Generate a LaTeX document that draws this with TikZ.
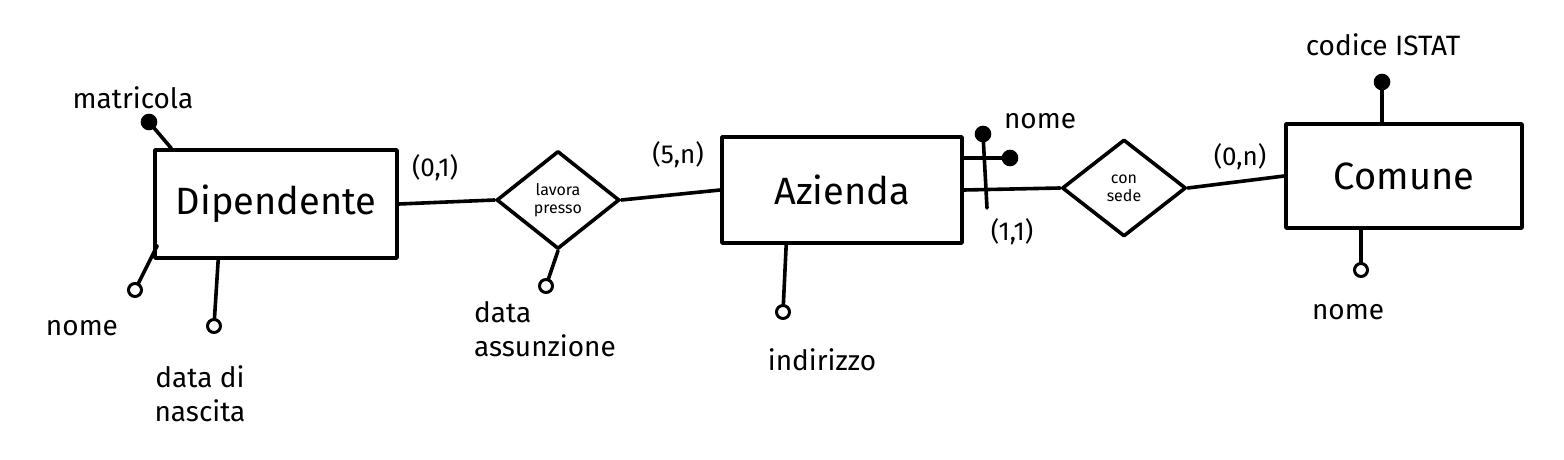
\documentclass[tikz,border=0pt]{standalone}
\usepackage{fontspec}
\setmainfont{Fira Sans}
\usetikzlibrary{shapes.geometric,calc}
\tikzset{
  ink/.style={line width=1.8pt, line cap=round, line join=round, black},
  entity/.style={ink, draw, rectangle, font=\fontsize{19}{21}\selectfont},
  relation/.style={ink, draw, diamond, inner sep=0pt, font=\fontsize{8}{9}\selectfont, align=center},
  attrO/.style={line width=1.5pt, draw, circle, fill=white, minimum size=6.5pt, inner sep=0pt},
  attrK/.style={ink, draw, circle, fill=black, minimum size=6.5pt, inner sep=0pt},
  lbl/.style={font=\fontsize{14}{17}\selectfont, inner sep=1pt},
  card/.style={font=\fontsize{13}{15}\selectfont, inner sep=1pt},
}
\begin{document}
\begin{tikzpicture}[x=0.5pt,y=-0.5pt]
\useasboundingbox (0,0) rectangle (1564,460);
% entities
\node[entity, minimum width=121pt, minimum height=54pt] (dip) at (276,204) {Dipendente};
\node[entity, minimum width=120pt, minimum height=53pt] (az) at (842,190) {Azienda};
\node[entity, minimum width=118pt, minimum height=52pt] (com) at (1404,176) {Comune};
% relations
\node[relation, minimum width=61.5pt, minimum height=49pt] (lav) at (558,200) {lavora\\presso};
\node[relation, minimum width=62pt, minimum height=48.5pt] (con) at (1124,188) {con\\sede};
% connectors
\draw[ink] (dip.east) -- (lav.west);
\draw[ink] (lav.east) -- (az.west);
\draw[ink] (az.east) -- (con.west);
\draw[ink] (con.east) -- (com.west);
% Dipendente attributes
\node[attrK] (matr) at (149,122) {};
\node[lbl] (matrL) at (133,98) {matricola};
\draw[ink] ($(dip.north west)+(18,0)$) coordinate (dm) -- (matr);
\node[attrO] (dnome) at (135,290) {};
\node[lbl] (dnomeL) at (82,328) {nome};
\draw[ink] ($(dip.south west)+(4,-14)$) coordinate (dn) -- (dnome);
\node[attrO] (dnasc) at (214,326) {};
\node[lbl, align=center] (dnascL) at (200,394) {data di\\nascita};
\draw[ink] ($(dip.south west)+(65,0)$) coordinate (dd) -- (dnasc);
% relation attribute
\node[attrO] (dass) at (546,286) {};
\node[lbl, align=left] (dassL) at (545,329) {data\\assunzione};
\draw[ink] (lav.south) -- (dass);
% Azienda attributes
\node[attrO] (ind) at (783,312) {};
\node[lbl] (indL) at (822,360) {indirizzo};
\draw[ink] ($(az.south west)+(66,0)$) coordinate (ai) -- (ind);
\node[attrK] (anome) at (1010,158) {};
\node[lbl] (anomeL) at (1040,121) {nome};
\draw[ink] ($(az.east)+(0,-32)$) coordinate (an) -- (anome);
\node[attrK] (aid) at (983,134) {};
\coordinate (aidEnd) at (987,208);
\draw[ink] (aid) -- (aidEnd);
% Comune attributes
\node[attrK] (cist) at (1382,82) {};
\node[lbl] (cistL) at (1383,45) {codice ISTAT};
\draw[ink] (cist) -- (cist |- com.north);
\node[attrO] (cnome) at (1361,270) {};
\node[lbl] (cnomeL) at (1348,312) {nome};
\draw[ink] (cnome |- com.south) -- (cnome);
% cardinalities
\node[card] (c1) at (435,168) {(0,1)};
\node[card] (c2) at (678,155) {(5,n)};
\node[card] (c3) at (1012,232) {(1,1)};
\node[card] (c4) at (1240,157) {(0,n)};
\end{tikzpicture}
\end{document}
